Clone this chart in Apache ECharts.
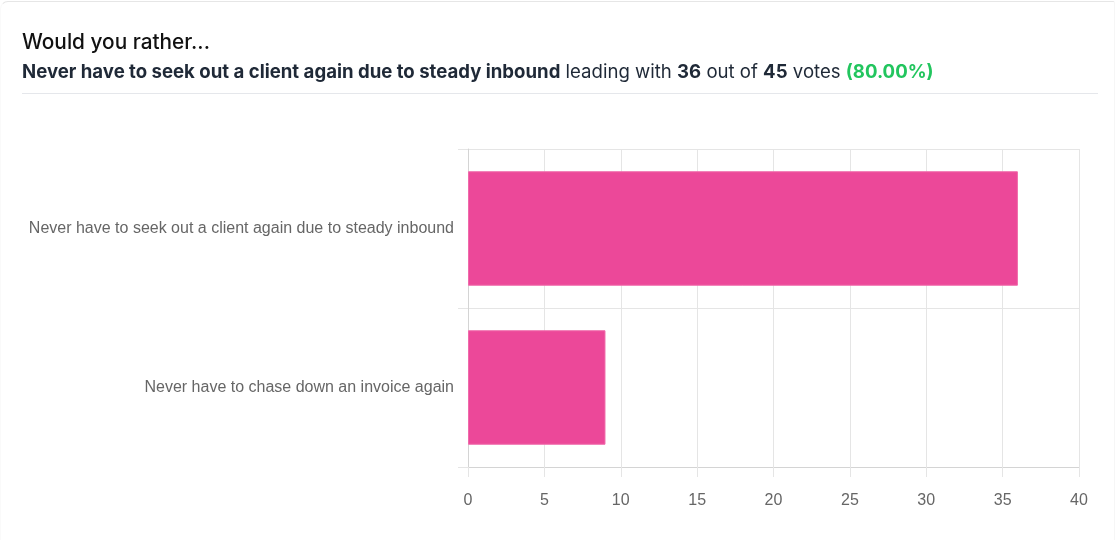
<!DOCTYPE html>
<html>
<head>
<meta charset="utf-8">
<script src="https://cdn.jsdelivr.net/npm/echarts@6/dist/echarts.min.js"></script>
<style>
html,body{margin:0;padding:0;background:#fff;}
#card{position:absolute;left:0;top:1px;width:1115px;height:600px;border-top:1px solid #e6e6e6;border-left:1px solid #fafafa;border-right:1px solid #f6f6f6;border-top-left-radius:8px;border-top-right-radius:2px;box-sizing:border-box;}
#chart{position:absolute;left:0;top:0;width:1116px;height:540px;}
</style>
</head>
<body>
<div id="card"></div>
<div id="chart"></div>
<script>
const titleText = 'Would you rather...';
const leader = 'Never have to seek out a client again due to steady inbound';
const leaderVotes = 36;
const totalVotes = 45;
const leaderPct = '(80.00%)';
const categories = ['Never have to seek out a client again due to steady inbound', 'Never have to chase down an invoice again'];
const votes = [36, 9];
const xTicks = [0, 5, 10, 15, 20, 25, 30, 35, 40];

const chart = echarts.init(document.getElementById('chart'), null, {renderer: 'canvas'});
const gridColor = '#e5e5e5';
chart.setOption({
  animation: false,
  backgroundColor: 'transparent',
  title: {
    text: titleText,
    subtext: '{b|' + leader + '} {n|leading with} {b|' + leaderVotes + '} {n|out of} {b|' + totalVotes + '} {n|votes} {g|' + leaderPct + '}',
    left: 22, top: 32, padding: 0,
    itemGap: 10,
    textStyle: {fontFamily: 'Inter', fontSize: 20.8, fontWeight: 500, color: '#111111'},
    subtextStyle: {
      fontFamily: 'Inter', fontSize: 18.6, color: '#1f2937',
      rich: {
        b: {fontFamily: 'Inter', fontSize: 18.6, fontWeight: 700, color: '#1f2937'},
        n: {fontFamily: 'Inter', fontSize: 18.6, fontWeight: 400, color: '#1f2937'},
        g: {fontFamily: 'Inter', fontSize: 18.6, fontWeight: 700, color: '#22c55e'}
      }
    }
  },
  graphic: [{
    type: 'line', shape: {x1: 22, y1: 93.5, x2: 1098, y2: 93.5},
    style: {stroke: '#e5e7eb', lineWidth: 1}
  }],
  grid: {left: 468, right: 37, top: 149, bottom: 73, containLabel: false},
  xAxis: {
    type: 'value', min: 0, max: 40, interval: 5,
    axisLine: {show: true, lineStyle: {color: '#d4d4d4', width: 1}},
    axisTick: {show: true, length: 10, lineStyle: {color: gridColor}},
    splitLine: {show: true, lineStyle: {color: gridColor, width: 1}},
    axisLabel: {
      margin: 26, color: '#666666', fontSize: 16, fontFamily: 'Liberation Sans',
      formatter: v => xTicks.includes(v) ? String(v) : ''
    }
  },
  yAxis: {
    type: 'category', data: categories, inverse: true,
    axisLine: {show: true, lineStyle: {color: '#d4d4d4', width: 1}},
    axisTick: {show: true, length: 10, lineStyle: {color: gridColor}},
    splitLine: {show: true, lineStyle: {color: gridColor, width: 1}},
    axisLabel: {margin: 14, color: '#666666', fontSize: 16, fontFamily: 'Liberation Sans'}
  },
  series: [{
    type: 'bar', data: votes, barWidth: '72%',
    itemStyle: {color: '#EC4899', borderColor: '#f06aab', borderWidth: 1}
  }]
});
</script>
</body>
</html>
